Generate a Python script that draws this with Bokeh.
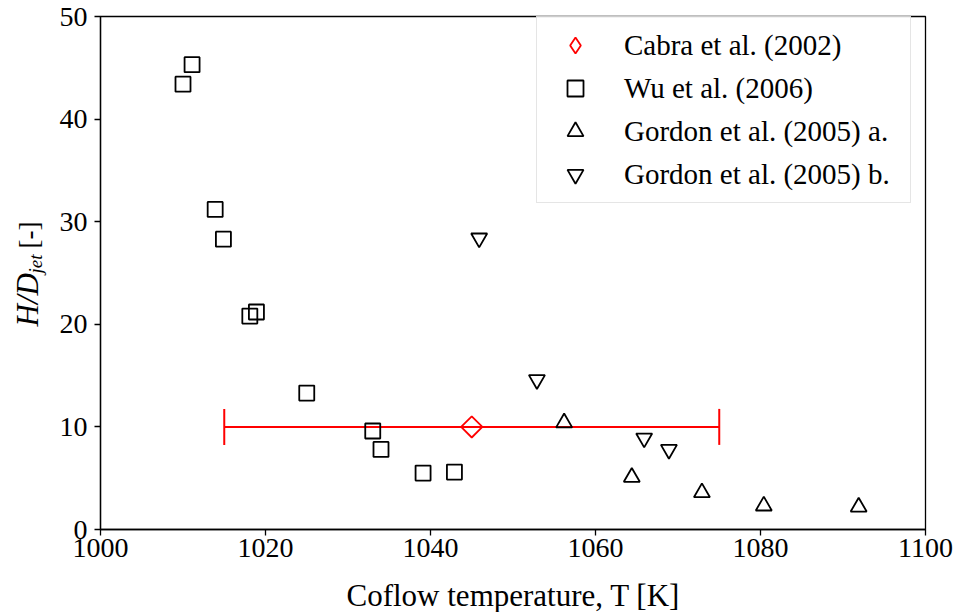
import math
from bokeh.plotting import figure
from bokeh.models import (Range1d, FixedTicker, Whisker, TeeHead, ColumnDataSource,
                          Legend, LegendItem, Label)
from bokeh.embed import file_html
from bokeh.resources import INLINE

# ---- data ----
cabra_x = [1045.0]
cabra_y = [10.0]
cabra_xerr = [30.0]

wu_x = [1010.0, 1011.1, 1013.9, 1014.9, 1018.1, 1018.9, 1025.0, 1033.0, 1034.0, 1039.1, 1042.9]
wu_y = [43.4, 45.3, 31.2, 28.3, 20.8, 21.2, 13.3, 9.6, 7.8, 5.5, 5.6]

gordon_a_x = [1056.2, 1064.4, 1072.9, 1080.4, 1091.9]
gordon_a_y = [10.4, 5.1, 3.6, 2.3, 2.2]

gordon_b_x = [1045.9, 1052.9, 1065.9, 1068.9]
gordon_b_y = [28.4, 14.6, 8.9, 7.8]

x_ticks = [1000, 1020, 1040, 1060, 1080, 1100]
y_ticks = [0, 10, 20, 30, 40, 50]

legend_labels = ["Cabra et al. (2002)", "Wu et al. (2006)",
                 "Gordon et al. (2005) a.", "Gordon et al. (2005) b."]
x_label = "Coflow temperature, T [K]"

FONT = "Liberation Serif"

p = figure(width=957, height=612, output_backend="svg", toolbar_location=None,
           x_range=Range1d(1000, 1100), y_range=Range1d(0, 50),
           min_border_left=99, min_border_right=32, min_border_top=16, min_border_bottom=83)
p.background_fill_color = "white"
p.border_fill_color = "white"
p.outline_line_color = "black"
p.outline_line_width = 1.3
p.xgrid.visible = False
p.ygrid.visible = False

for ax, ticks in ((p.xaxis, x_ticks), (p.yaxis, y_ticks)):
    ax.ticker = FixedTicker(ticks=ticks)
    ax.minor_tick_line_color = None
    ax.major_tick_in = 0
    ax.major_tick_out = 6
    ax.major_tick_line_width = 1.3
    ax.axis_line_width = 1.3
    ax.axis_line_color = "black"
    ax.major_tick_line_color = "black"
    ax.major_label_text_font = FONT
    ax.major_label_text_font_size = "28px"
    ax.major_label_text_color = "black"
p.xaxis.major_label_standoff = 3
p.yaxis.major_label_standoff = 7

# error bar for Cabra
lo = [x - e for x, e in zip(cabra_x, cabra_xerr)]
hi = [x + e for x, e in zip(cabra_x, cabra_xerr)]
err_src = ColumnDataSource(dict(y=cabra_y, lo=lo, hi=hi))
wh = Whisker(base="y", lower="lo", upper="hi", dimension="width", source=err_src,
             line_color="red", line_width=2,
             upper_head=TeeHead(size=36, line_color="red", line_width=2),
             lower_head=TeeHead(size=36, line_color="red", line_width=2))
p.add_layout(wh)

r_cabra = p.scatter(cabra_x, cabra_y, marker="square", size=15, angle=math.pi / 4,
                    fill_color=None, line_color="red", line_width=1.8)
# legend-only glyph for the Cabra entry (legend markers are drawn unrotated)
r_cabra_leg = p.scatter(cabra_x, cabra_y, marker="diamond", size=22,
                        fill_color=None, line_color="red", line_width=1.8, visible=False)
r_wu = p.scatter(wu_x, wu_y, marker="square", size=15,
                 fill_color=None, line_color="black", line_width=1.8)
r_ga = p.scatter(gordon_a_x, gordon_a_y, marker="triangle", size=16,
                 fill_color=None, line_color="black", line_width=1.8)
r_gb = p.scatter(gordon_b_x, gordon_b_y, marker="inverted_triangle", size=16,
                 fill_color=None, line_color="black", line_width=1.8)

legend = Legend(items=[LegendItem(label=legend_labels[0], renderers=[r_cabra_leg]),
                       LegendItem(label=legend_labels[1], renderers=[r_wu]),
                       LegendItem(label=legend_labels[2], renderers=[r_ga]),
                       LegendItem(label=legend_labels[3], renderers=[r_gb])],
                location=(436, 326))
legend.label_text_font = FONT
legend.label_text_font_size = "29px"
legend.label_text_color = "black"
legend.glyph_width = 60
legend.glyph_height = 40
legend.label_height = 40
legend.label_width = 278
legend.label_standoff = 19
legend.spacing = 3
legend.padding = 8
legend.margin = 0
legend.border_line_color = "#cccccc"
legend.border_line_width = 1.2
legend.background_fill_color = "white"
legend.background_fill_alpha = 0.8
p.add_layout(legend, "center")

# x axis label (placed in the panel below the axis)
p.add_layout(Label(x=413, y=-1, x_units="screen", y_units="screen", text=x_label,
                   text_font=FONT, text_font_size="31px", text_align="center",
                   text_baseline="middle", text_color="black"), "below")

# y axis label: H/D_jet [-]  (pieces with mixed styles, placed in side panels)
p.add_layout(Label(x=6, y=203, x_units="screen", y_units="screen", text="H/D",
                   angle=math.pi / 2, text_font=FONT, text_font_style="italic",
                   text_font_size="31px", text_align="left", text_baseline="middle",
                   text_color="black"), "left")
p.add_layout(Label(x=35, y=256, x_units="screen", y_units="screen", text="jet",
                   angle=math.pi / 2, text_font=FONT, text_font_style="italic",
                   text_font_size="19px", text_align="left", text_baseline="middle",
                   text_color="black"), "left")
p.add_layout(Label(x=-897, y=281, x_units="screen", y_units="screen", text="[-]",
                   angle=math.pi / 2, text_font=FONT,
                   text_font_size="27px", text_align="left", text_baseline="middle",
                   text_color="black"), "right")

open("out.html", "w").write(file_html(p, INLINE))
